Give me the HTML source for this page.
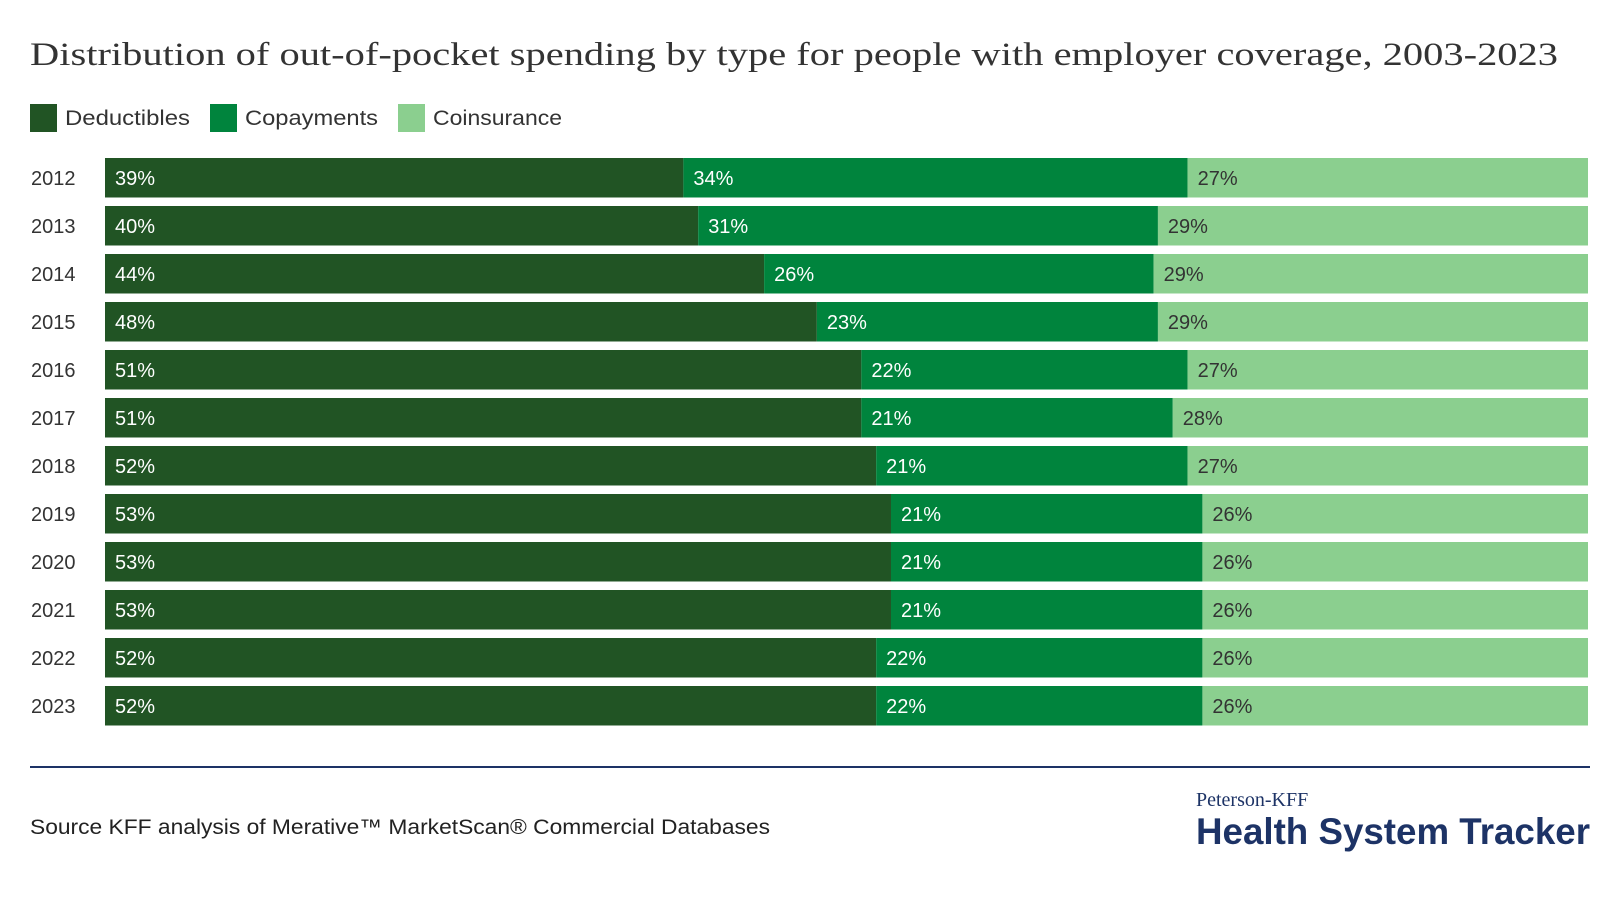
<!DOCTYPE html>
<html><head><meta charset="utf-8"><style>
body{margin:0;background:#fff;width:1620px;height:906px;overflow:hidden;font-family:"Liberation Sans",sans-serif;}
</style></head><body>
<svg width="1620" height="906" xmlns="http://www.w3.org/2000/svg">
<text x="30" y="65" font-family="Liberation Serif, serif" font-size="33" fill="#333" textLength="1528" lengthAdjust="spacingAndGlyphs">Distribution of out-of-pocket spending by type for people with employer coverage, 2003-2023</text>
<g>
<rect x="30" y="104" width="27" height="28" fill="#215424"/>
<text x="65" y="125" font-size="21" fill="#333" textLength="125" lengthAdjust="spacingAndGlyphs">Deductibles</text>
<rect x="210" y="104" width="27" height="28" fill="#00843d"/>
<text x="245" y="125" font-size="21" fill="#333" textLength="133" lengthAdjust="spacingAndGlyphs">Copayments</text>
<rect x="398" y="104" width="27" height="28" fill="#8bcf8f"/>
<text x="433" y="125" font-size="21" fill="#333" textLength="129" lengthAdjust="spacingAndGlyphs">Coinsurance</text>
</g>
<g id="bars"></g>
<line x1="30" y1="767" x2="1590" y2="767" stroke="#1d3366" stroke-width="2"/>
<text x="30" y="834" font-size="21" fill="#222" textLength="740" lengthAdjust="spacingAndGlyphs">Source KFF analysis of Merative™ MarketScan® Commercial Databases</text>
<text x="1196" y="806" font-family="Liberation Serif, serif" font-size="20" fill="#1d3366">Peterson-KFF</text>
<text x="1196" y="844" font-size="37" font-weight="bold" fill="#1d3366" textLength="394" lengthAdjust="spacingAndGlyphs">Health System Tracker</text>
</svg>
<script>
const years=["2012","2013","2014","2015","2016","2017","2018","2019","2020","2021","2022","2023"];
const deductibles=[39,40,44,48,51,51,52,53,53,53,52,52];
const copayments=[34,31,26,23,22,21,21,21,21,21,22,22];
const coinsurance=[27,29,29,29,27,28,27,26,26,26,26,26];
const X0=105,X1=1588,Y0=158,PITCH=48.0,BH=39.5;
const g=document.getElementById('bars');
const NS="http://www.w3.org/2000/svg";
function x(v,total){return X0+(X1-X0)*v/total;}
function y(i){return Y0+i*PITCH;}
const series=[["deductibles",deductibles,"#215424","#fff"],["copayments",copayments,"#00843d","#fff"],["coinsurance",coinsurance,"#8bcf8f","#333"]];
years.forEach((yr,i)=>{
  const total=deductibles[i]+copayments[i]+coinsurance[i];
  const t=document.createElementNS(NS,'text');
  t.setAttribute('x',31);t.setAttribute('y',y(i)+BH/2+7);t.setAttribute('font-size','20');t.setAttribute('fill','#333');
  t.textContent=yr;
  
  
  g.appendChild(t);
  let acc=0;
  series.forEach(([name,arr,col,tc])=>{
    const v=arr[i];
    const r=document.createElementNS(NS,'rect');
    const xa=x(acc,total),xb=x(acc+v,total);
    r.setAttribute('x',xa);r.setAttribute('y',y(i));r.setAttribute('width',xb-xa);r.setAttribute('height',BH);r.setAttribute('fill',col);
    
    
    g.appendChild(r);
    const l=document.createElementNS(NS,'text');
    l.setAttribute('x',xa+10);l.setAttribute('y',y(i)+BH/2+7);l.setAttribute('font-size','20');l.setAttribute('fill',tc);
    l.textContent=v+'%';
    
    
    g.appendChild(l);
    acc+=v;
  });
});
</script>
</body></html>
